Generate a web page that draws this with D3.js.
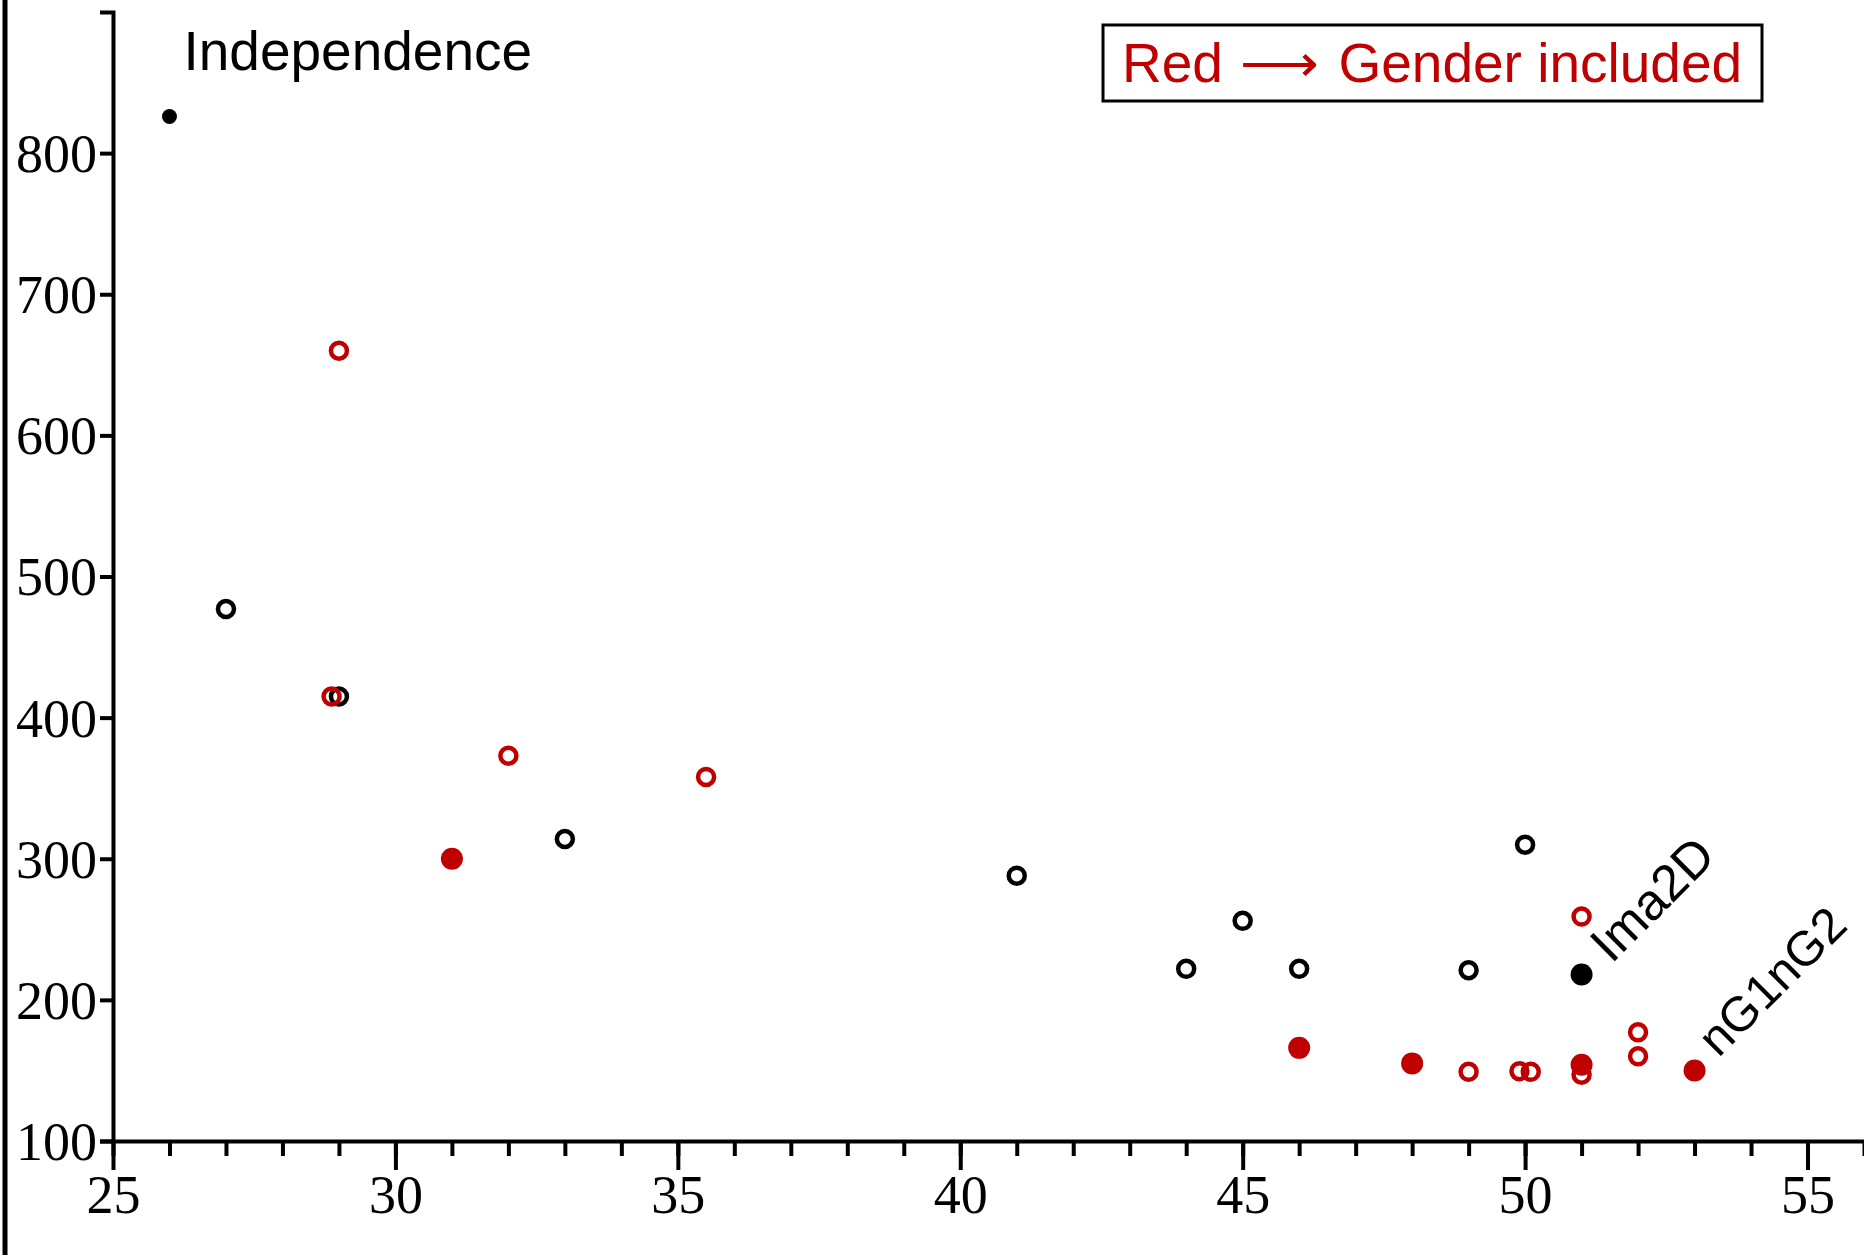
<!DOCTYPE html>
<html>
<head>
<meta charset="utf-8">
<script src="https://cdn.jsdelivr.net/npm/d3@7"></script>
<style>
  html, body { margin: 0; padding: 0; background: #fff; }
  svg { display: block; }
</style>
</head>
<body>
<svg id="chart" width="1864" height="1255"></svg>
<script>
// ---- data ----
const blackX      = [27, 29, 33, 41, 44, 45, 46, 49, 50];
const blackY      = [477, 415, 314, 288, 222, 256, 222, 221, 310];
const blackFillX  = [26, 51];
const blackFillY  = [826, 218];
const blackFillSz = ["small", "big"];
const redX        = [29, 28.87, 32, 35.5, 49, 49.9, 50.1, 51, 51, 52, 52];
const redY        = [660, 415, 373, 358, 149, 149.5, 149, 147, 259, 177, 160];
const redFillX    = [31, 46, 48, 51, 53];
const redFillY    = [300, 166, 155, 154, 150];
const xMajorTicks = [25, 30, 35, 40, 45, 50, 55];
const xMinorTicks = d3.range(25, 57, 1);
const yTicks      = [100, 200, 300, 400, 500, 600, 700, 800];
const labelText   = ["Independence", "Ima2D", "nG1nG2"];
const labelX      = [26, 51, 53];
const labelY      = [826, 218, 150];
const legendParts = ["Red ", "\u27F6", " Gender included"];

const RED = "#c00000";
const svg = d3.select("#chart");

const x = d3.scaleLinear().domain([25, 56]).range([113, 1864]);
const y = d3.scaleLinear().domain([100, 900]).range([1141, 12]);

// outer left frame line
svg.append("line").attr("x1", 5).attr("x2", 5).attr("y1", 0).attr("y2", 1255)
  .attr("stroke", "#000").attr("stroke-width", 5);

const serif = "'Liberation Serif', 'DejaVu Serif', serif";

// x axis minor ticks
const gxMinor = svg.append("g").attr("transform", `translate(0,${y(100)})`)
  .call(d3.axisBottom(x).tickValues(xMinorTicks).tickSize(15).tickSizeOuter(0).tickFormat(""));
gxMinor.selectAll("line").attr("stroke-width", 4);
gxMinor.select(".domain").attr("stroke-width", 4);

// x axis major ticks
const gxMajor = svg.append("g").attr("transform", `translate(0,${y(100)})`)
  .call(d3.axisBottom(x).tickValues(xMajorTicks).tickSize(29).tickSizeOuter(0).tickFormat(d3.format("d")));
gxMajor.select(".domain").remove();
gxMajor.selectAll("line").attr("stroke-width", 4);
gxMajor.selectAll("text").attr("font-family", serif)
  .attr("font-size", 54).attr("fill", "#000").attr("dy", "0").attr("y", 72);

// y axis
const gy = svg.append("g").attr("transform", `translate(${x(25)},0)`)
  .call(d3.axisLeft(y).tickValues(yTicks).tickSize(13).tickSizeOuter(13).tickFormat(d3.format("d")));
gy.selectAll("line").attr("stroke-width", 4);
gy.select(".domain").attr("stroke-width", 4);
gy.selectAll("text").attr("font-family", serif)
  .attr("font-size", 54).attr("fill", "#000").attr("x", -16).attr("dy", "0.34em");

// points
const openR = 8, fillR = 11;
function openPts(xs, ys, color) {
  svg.append("g").selectAll("circle").data(xs).join("circle")
    .attr("cx", (d) => x(d)).attr("cy", (d, i) => y(ys[i])).attr("r", openR)
    .attr("fill", "none").attr("stroke", color).attr("stroke-width", 4.5);
}
function fillPts(xs, ys, color, rs) {
  svg.append("g").selectAll("circle").data(xs).join("circle")
    .attr("cx", (d) => x(d)).attr("cy", (d, i) => y(ys[i]))
    .attr("r", (d, i) => rs ? rs[i] : fillR).attr("fill", color);
}
openPts(blackX, blackY, "#000");
openPts(redX, redY, RED);
fillPts(redFillX, redFillY, RED);
fillPts(blackFillX, blackFillY, "#000", blackFillSz.map((s) => s === "small" ? 7.5 : fillR));

// labels
const labelFont = "'Liberation Sans', Arial, Helvetica, sans-serif";
svg.append("text").text(labelText[0])
  .attr("x", x(labelX[0]) + 14).attr("y", y(labelY[0]) - 46)
  .attr("font-family", labelFont).attr("font-size", 55).attr("fill", "#000");
const rotOff = [null, [30, -10, 51], [24, -12, 49]];
[1, 2].forEach((k) => {
  const px = x(labelX[k]) + rotOff[k][0], py = y(labelY[k]) + rotOff[k][1];
  svg.append("text").text(labelText[k])
    .attr("transform", `translate(${px},${py}) rotate(-45)`)
    .attr("font-family", labelFont).attr("font-size", rotOff[k][2]).attr("fill", "#000");
});

// legend box
svg.append("rect").attr("x", 1103).attr("y", 25).attr("width", 659).attr("height", 76)
  .attr("fill", "#fff").attr("stroke", "#000").attr("stroke-width", 3);
const lt = svg.append("text").attr("x", 1122).attr("y", 82)
  .attr("font-family", labelFont).attr("font-size", 55).attr("fill", RED);
lt.append("tspan").text(legendParts[0]);
lt.append("tspan").attr("dx", 2).text(legendParts[1]);
lt.append("tspan").attr("dx", 4).text(legendParts[2]);
</script>
</body>
</html>
